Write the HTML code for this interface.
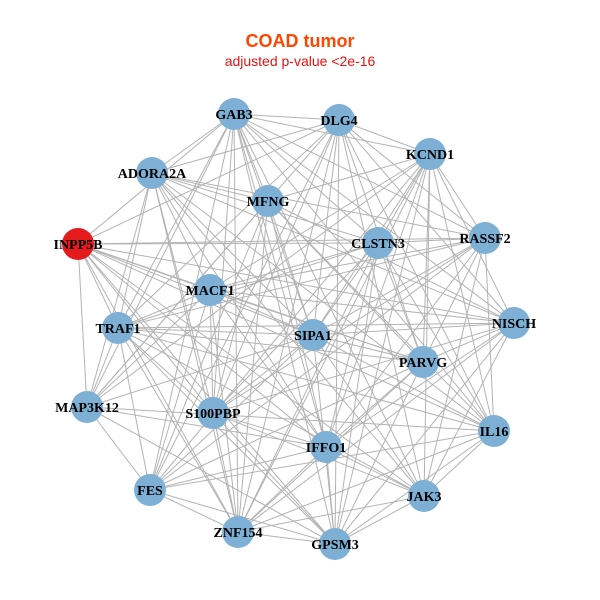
<!DOCTYPE html>
<html><head><meta charset="utf-8"><style>
html,body{margin:0;padding:0;background:#fff;}
svg{display:block}
</style></head><body>
<svg id="s" width="600" height="600" xmlns="http://www.w3.org/2000/svg">
<rect width="600" height="600" fill="#fff"/>
<text x="300" y="47" text-anchor="middle" font-family="Liberation Sans, sans-serif" font-weight="bold" font-size="18" fill="#ff4500">COAD tumor</text>
<text x="300" y="66" text-anchor="middle" font-family="Liberation Sans, sans-serif" font-size="14" fill="#ee1111">adjusted p-value &lt;2e-16</text>
<g id="e" stroke="#b3b3b3" stroke-width="1"></g>
<g id="n"></g>
</svg>
<script>
var N=[["GAB3",234,114],["DLG4",339,120],["KCND1",430,154],["ADORA2A",152,173],["MFNG",268,201],["CLSTN3",378,243],["RASSF2",485,238],["INPP5B",78,244],["MACF1",210,290],["TRAF1",118,328],["SIPA1",313,335],["NISCH",514,323],["PARVG",423,362],["MAP3K12",87,407],["S100PBP",213,413],["IFFO1",326,447],["IL16",494,431],["FES",150,490],["JAK3",424,496],["ZNF154",238,532],["GPSM3",335,544]];
var ns="http://www.w3.org/2000/svg",e=document.getElementById("e"),g=document.getElementById("n");
var seed=7;function r(){seed=(seed*9301+49297)%233280;return seed/233280;}
for(var i=0;i<N.length;i++)for(var j=i+1;j<N.length;j++){if(r()<0.72){var l=document.createElementNS(ns,"line");l.setAttribute("x1",N[i][1]);l.setAttribute("y1",N[i][2]);l.setAttribute("x2",N[j][1]);l.setAttribute("y2",N[j][2]);e.appendChild(l);}}
N.forEach(function(d){var c=document.createElementNS(ns,"circle");c.setAttribute("cx",d[1]);c.setAttribute("cy",d[2]);c.setAttribute("r",16);c.setAttribute("fill",d[0]=="INPP5B"?"#e41a1c":"#7eb0d6");g.appendChild(c);
var t=document.createElementNS(ns,"text");t.setAttribute("x",d[1]);t.setAttribute("y",d[2]+5);t.setAttribute("text-anchor","middle");t.setAttribute("font-family","Liberation Serif, serif");t.setAttribute("font-weight","bold");t.setAttribute("font-size","14");t.textContent=d[0];g.appendChild(t);});
</script>
</body></html>
